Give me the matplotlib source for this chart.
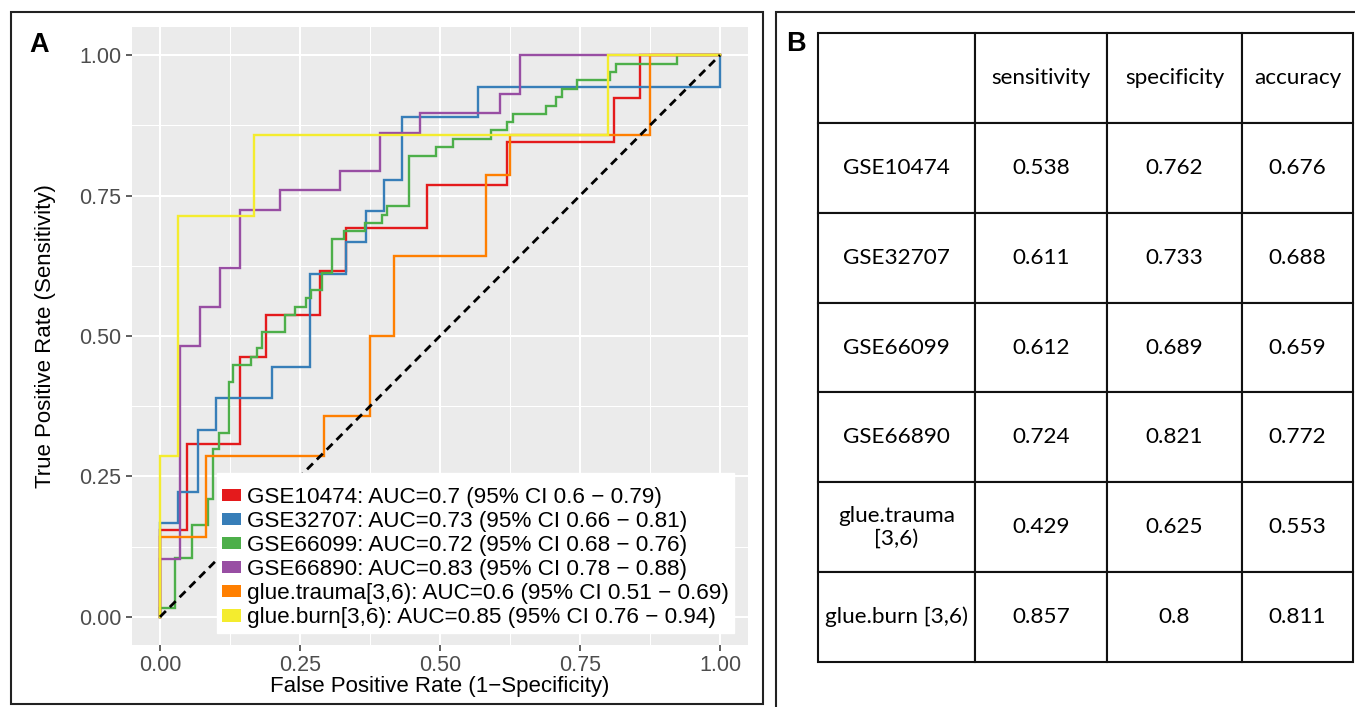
import matplotlib
matplotlib.use("Agg")
import matplotlib.pyplot as plt
from matplotlib.patches import Rectangle, Patch

# ---------------- data ----------------
series_names = ["GSE10474", "GSE32707", "GSE66099", "GSE66890",
                "glue.trauma[3,6)", "glue.burn[3,6)"]
auc = [0.7, 0.73, 0.72, 0.83, 0.6, 0.85]
ci_low = [0.6, 0.66, 0.68, 0.78, 0.51, 0.76]
ci_high = [0.79, 0.81, 0.76, 0.88, 0.69, 0.94]
colors = ["#E41A1C", "#377EB8", "#4DAF4A", "#984EA3", "#FF7F00", "#F4EC2E"]

# ROC step curves: x position (1 - specificity) of each vertical jump and
# the sensitivity reached after it
gse10474_fpr = [0, 0.048, 0.143, 0.190, 0.286, 0.333, 0.476, 0.619, 0.810, 0.857]
gse10474_tpr = [0.154, 0.308, 0.462, 0.538, 0.615, 0.692, 0.769, 0.846, 0.923, 1.0]

gse32707_fpr = [0, 0.033, 0.067, 0.100, 0.200, 0.267, 0.333, 0.367, 0.400, 0.433, 0.567, 1.0]
gse32707_tpr = [0.167, 0.222, 0.333, 0.389, 0.444, 0.611, 0.667, 0.722, 0.778, 0.889, 0.944, 1.0]

gse66099_fpr = [0, 0.027, 0.057, 0.086, 0.095, 0.105, 0.123, 0.131, 0.162, 0.173, 0.182,
                0.223, 0.241, 0.261, 0.270, 0.289, 0.308, 0.329, 0.366, 0.396, 0.406,
                0.445, 0.493, 0.523, 0.591, 0.619, 0.630, 0.689, 0.708, 0.717, 0.745,
                0.804, 0.814, 0.923]
gse66099_tpr = [0.015, 0.104, 0.164, 0.209, 0.299, 0.328, 0.418, 0.448, 0.463, 0.478, 0.507,
                0.537, 0.552, 0.567, 0.582, 0.612, 0.672, 0.687, 0.701, 0.716, 0.731,
                0.821, 0.836, 0.851, 0.866, 0.881, 0.896, 0.910, 0.925, 0.940, 0.955,
                0.970, 0.985, 1.0]

gse66890_fpr = [0, 0.036, 0.071, 0.107, 0.143, 0.214, 0.321, 0.393, 0.464, 0.607, 0.643]
gse66890_tpr = [0.103, 0.483, 0.552, 0.621, 0.724, 0.759, 0.793, 0.862, 0.897, 0.931, 1.0]

trauma_fpr = [0, 0.083, 0.292, 0.375, 0.417, 0.583, 0.625, 0.875]
trauma_tpr = [0.143, 0.286, 0.357, 0.500, 0.643, 0.786, 0.857, 1.0]

burn_fpr = [0, 0.033, 0.167, 0.800]
burn_tpr = [0.286, 0.714, 0.857, 1.0]

curves_fpr = [gse10474_fpr, gse32707_fpr, gse66099_fpr, gse66890_fpr, trauma_fpr, burn_fpr]
curves_tpr = [gse10474_tpr, gse32707_tpr, gse66099_tpr, gse66890_tpr, trauma_tpr, burn_tpr]

tick_vals = [0.0, 0.25, 0.5, 0.75, 1.0]
tick_labels = ["0.00", "0.25", "0.50", "0.75", "1.00"]

# table (panel B)
table_cols = ["", "sensitivity", "specificity", "accuracy"]
table_rows = ["GSE10474", "GSE32707", "GSE66099", "GSE66890",
              "glue.trauma\n[3,6)", "glue.burn [3,6)"]
sensitivity = [0.538, 0.611, 0.612, 0.724, 0.429, 0.857]
specificity = [0.762, 0.733, 0.689, 0.821, 0.625, 0.8]
accuracy = [0.676, 0.688, 0.659, 0.772, 0.553, 0.811]

# ---------------- figure ----------------
W, H = 1355, 707
fig = plt.figure(figsize=(W / 100, H / 100), dpi=100)
fig.patch.set_facecolor("white")

FONT = ["Liberation Sans", "DejaVu Sans"]

ax = fig.add_axes([132 / W, 1 - 645 / H, 616 / W, 618 / H])
ax.set_facecolor("#EBEBEB")
ax.set_xlim(-0.05, 1.05)
ax.set_ylim(-0.05, 1.05)
for s in ax.spines.values():
    s.set_visible(False)

minor = [0.125, 0.375, 0.625, 0.875]
ax.set_xticks(tick_vals)
ax.set_yticks(tick_vals)
ax.set_xticks(minor, minor=True)
ax.set_yticks(minor, minor=True)
ax.set_xticklabels(tick_labels)
ax.set_yticklabels(tick_labels)
ax.grid(True, which="major", color="white", lw=1.5)
ax.grid(True, which="minor", color="white", lw=0.75)
ax.set_axisbelow(True)
ax.tick_params(which="major", length=4.5, width=1.1, color="#333333",
               labelcolor="#4D4D4D", labelsize=15.5, pad=3)
ax.tick_params(which="minor", length=0)
for lab in ax.get_xticklabels() + ax.get_yticklabels():
    lab.set_family(FONT)

handles = []
for name, a, lo, hi, col, fx, ty in zip(series_names, auc, ci_low, ci_high,
                                         colors, curves_fpr, curves_tpr):
    xs, ys = [0.0], [0.0]
    prev = 0.0
    for f, t in zip(fx, ty):
        xs += [f, f]
        ys += [prev, t]
        prev = t
    xs.append(1.0)
    ys.append(prev)
    ax.plot(xs, ys, color=col, lw=1.7, solid_joinstyle="miter")
    handles.append(Patch(facecolor=col, edgecolor="none",
                         label=f"{name}: AUC={a:g} (95% CI {lo:g} \u2212 {hi:g})"))

ax.plot([0, 1], [0, 1], color="black", lw=2.0, linestyle=(0, (3.0, 2.0)), zorder=5)

ax.set_xlabel("False Positive Rate (1\u2212Specificity)", fontsize=16, family=FONT,
              labelpad=0)
ax.set_ylabel("True Positive Rate (Sensitivity)", fontsize=16, family=FONT,
              labelpad=17)

leg = ax.legend(handles=handles, loc="lower left",
                bbox_to_anchor=((217 - 132) / 616, (645 - 633) / 618),
                borderaxespad=0, frameon=True, fancybox=False,
                prop={"family": FONT, "size": 16.2},
                title=" ", title_fontsize=5,
                handlelength=0.86, handleheight=0.45, handletextpad=0.28,
                labelspacing=0.14, borderpad=0.2)
leg.get_frame().set_facecolor("white")
leg.get_frame().set_edgecolor("white")
leg.get_frame().set_alpha(1)
leg.set_zorder(10)

# panel frames and labels
fig.add_artist(Rectangle((11 / W, 1 - 704 / H), (763 - 11) / W, (704 - 12) / H,
                         transform=fig.transFigure, fill=False, lw=1.5,
                         ec="#222222"))
fig.add_artist(Rectangle((776 / W, -0.1), 0.5, 1 - 12 / H + 0.1,
                         transform=fig.transFigure, fill=False, lw=1.5,
                         ec="#222222"))
fig.text(29 / W, 1 - 52 / H, "A", fontsize=19.5, fontweight="bold", family=FONT,
         va="baseline", ha="left")
fig.text(786 / W, 1 - 51 / H, "B", fontsize=19.5, fontweight="bold", family=FONT,
         va="baseline", ha="left")

# table
tax = fig.add_axes([818 / W, 1 - 662 / H, 535 / W, 629 / H])
tax.axis("off")
cells = [table_cols]
for r, se, sp, ac in zip(table_rows, sensitivity, specificity, accuracy):
    cells.append([r, f"{se:g}", f"{sp:g}", f"{ac:g}"])
col_w = [157, 132, 135, 111]
tot = sum(col_w)
tbl = tax.table(cellText=cells, colWidths=[c / tot for c in col_w],
                bbox=[0, 0, 1, 1], cellLoc="center")
tbl.auto_set_font_size(False)
for (r, c), cell in tbl.get_celld().items():
    cell.set_linewidth(1.5)
    cell.set_edgecolor("#111111")
    cell.set_clip_on(False)
    txt = cell.get_text()
    txt.set_fontsize(16.2)
    txt.set_family(["Lato", "DejaVu Sans"])
    txt.set_linespacing(1.15)

fig.savefig("out.png", dpi=100)
